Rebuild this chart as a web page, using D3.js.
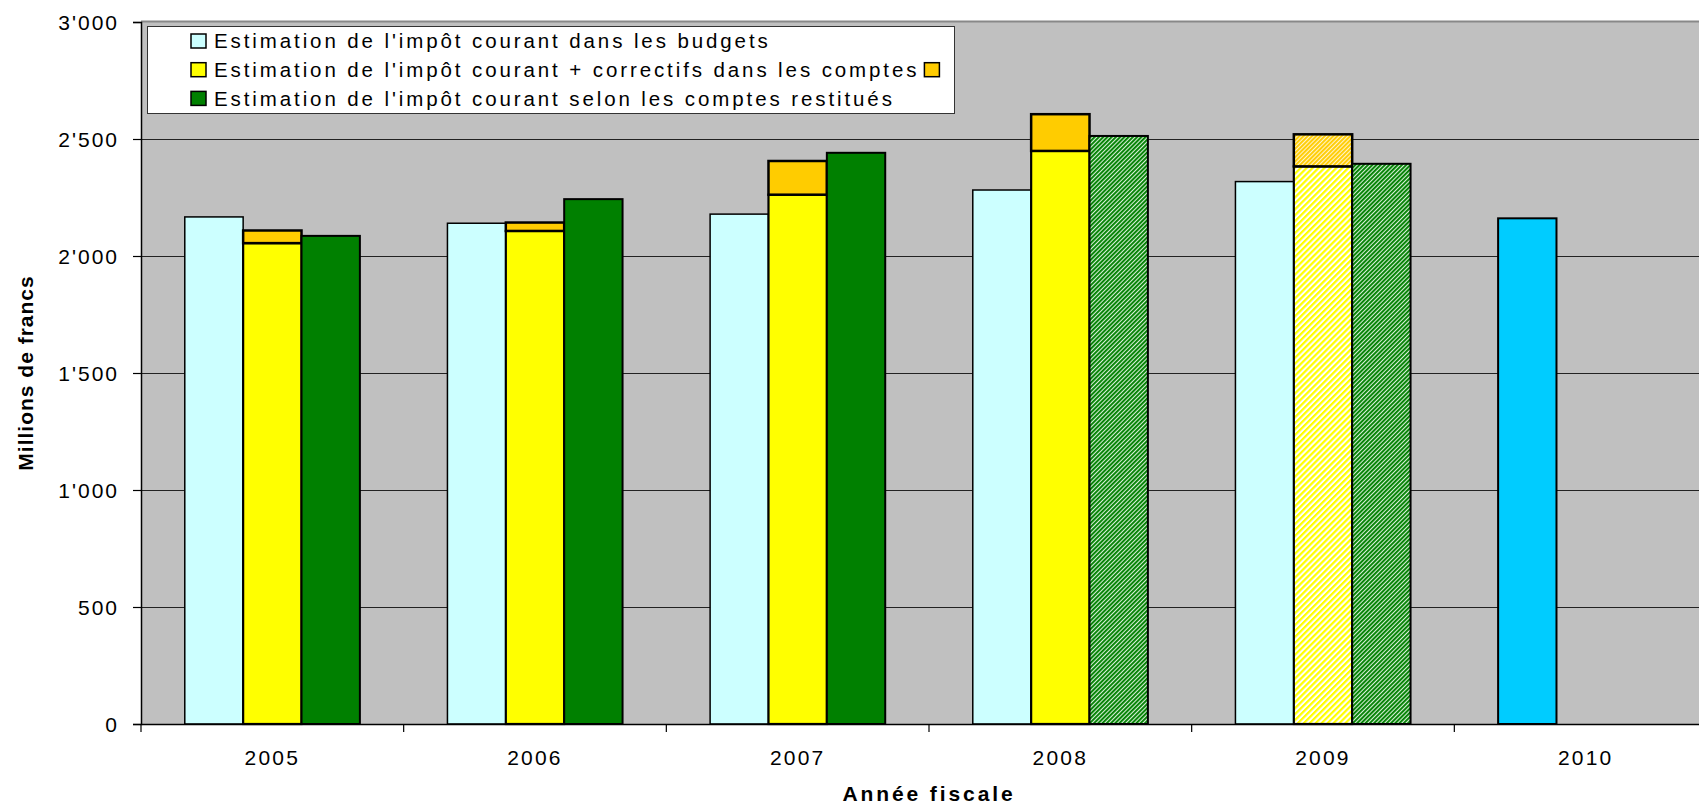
<!DOCTYPE html>
<html>
<head>
<meta charset="utf-8">
<script src="https://cdn.jsdelivr.net/npm/d3@7"></script>
<style>
  body { margin: 0; background: #fff; }
  text { font-family: "Liberation Sans", Arial, sans-serif; fill: #000; }
</style>
</head>
<body>
<div id="chart"></div>
<script>
// data (millions de francs)
const years = ["2005", "2006", "2007", "2008", "2009", "2010"];
const budgets = [2167, 2140, 2179, 2282, 2318, 2161];
const comptes = [2055, 2107, 2262, 2449, 2383, null];
const correctifs = [54, 36, 144, 157, 137, null];
const restitues = [2086, 2243, 2441, 2513, 2394, null];
const hatchedRestitues = ["2008", "2009"];
const hatchedComptes = ["2009"];
const budgetHighlight = ["2010"];
const yTicks = [0, 500, 1000, 1500, 2000, 2500, 3000];
const legendLabels = [
  "Estimation de l'impôt courant dans les budgets",
  "Estimation de l'impôt courant + correctifs dans les comptes",
  "Estimation de l'impôt courant selon les comptes restitués"
];

const W = 1699, H = 805;
const margin = {left: 141, top: 22};
const plotW = 1576, plotH = 702;

const svg = d3.select("#chart").append("svg")
  .attr("width", W).attr("height", H);

const fmt = d3.formatLocale({decimal: ".", thousands: "'", grouping: [3], currency: ["", ""]}).format(",");

// patterns
const defs = svg.append("defs");
function stripes(id, bg, fg, size, fgW) {
  let p = defs.append("pattern").attr("id", id)
    .attr("patternUnits", "userSpaceOnUse")
    .attr("width", size).attr("height", size)
    .attr("patternTransform", "rotate(45)");
  p.append("rect").attr("width", size).attr("height", size).attr("fill", bg);
  p.append("rect").attr("width", fgW).attr("height", size).attr("fill", fg);
}
stripes("hGreen", "#d8f0d8", "#008000", 3, 1.9);
stripes("hYellow", "#ffffff", "#ffff00", 4.2, 2.2);
stripes("hOrange", "#fff4cc", "#ffcc00", 3, 1.9);

const x0 = d3.scaleBand().domain(years).range([margin.left, margin.left + plotW]);
const x1 = d3.scaleBand().domain(["b", "c", "r"]).range([0, x0.bandwidth()])
  .paddingInner(0).paddingOuter(0.75);
const y = d3.scaleLinear().domain([0, 3000]).range([margin.top + plotH, margin.top]);

// plot background
svg.append("rect")
  .attr("x", margin.left).attr("y", margin.top)
  .attr("width", plotW).attr("height", plotH)
  .attr("fill", "#c0c0c0");
svg.append("line")
  .attr("x1", margin.left).attr("x2", W)
  .attr("y1", margin.top - 0.5).attr("y2", margin.top - 0.5)
  .attr("stroke", "#888").attr("stroke-width", 2);

// gridlines
svg.append("g").selectAll("line")
  .data(yTicks.filter(d => d > 0 && d < 3000))
  .join("line")
  .attr("x1", margin.left).attr("x2", margin.left + plotW)
  .attr("y1", d => y(d) + 0.5).attr("y2", d => y(d) + 0.5)
  .attr("stroke", "#222").attr("stroke-width", 1.2);

// bars
const g = svg.append("g");
years.forEach((yr, i) => {
  let gx = x0(yr);
  let bw = x1.bandwidth();
  if (budgets[i] != null) {
    let hi = budgetHighlight.includes(yr);
    g.append("rect")
      .attr("x", gx + x1("b")).attr("y", y(budgets[i]))
      .attr("width", bw).attr("height", y(0) - y(budgets[i]))
      .attr("fill", hi ? "#00ccff" : "#ccffff")
      .attr("stroke", "#000").attr("stroke-width", hi ? 2 : 1.5);
  }
  if (comptes[i] != null) {
    let h = hatchedComptes.includes(yr);
    g.append("rect")
      .attr("x", gx + x1("c")).attr("y", y(comptes[i]))
      .attr("width", bw).attr("height", y(0) - y(comptes[i]))
      .attr("fill", h ? "url(#hYellow)" : "#ffff00")
      .attr("stroke", "#000").attr("stroke-width", 2.2);
    let top = comptes[i] + correctifs[i];
    g.append("rect")
      .attr("x", gx + x1("c")).attr("y", y(top))
      .attr("width", bw).attr("height", y(comptes[i]) - y(top))
      .attr("fill", h ? "url(#hOrange)" : "#ffcc00")
      .attr("stroke", "#000").attr("stroke-width", 2.5);
  }
  if (restitues[i] != null) {
    let h = hatchedRestitues.includes(yr);
    g.append("rect")
      .attr("x", gx + x1("r")).attr("y", y(restitues[i]))
      .attr("width", bw).attr("height", y(0) - y(restitues[i]))
      .attr("fill", h ? "url(#hGreen)" : "#008000")
      .attr("stroke", "#000").attr("stroke-width", 2);
  }
});

// y axis
const yAxis = svg.append("g")
  .attr("transform", `translate(${margin.left},0)`)
  .call(d3.axisLeft(y).tickValues(yTicks).tickFormat(fmt).tickSize(8).tickPadding(14));
yAxis.select(".domain").attr("stroke", "#000").attr("stroke-width", 1.5);
yAxis.selectAll(".tick line").attr("stroke", "#000").attr("stroke-width", 1.2);
yAxis.selectAll(".tick text")
  .style("font-size", "21px").style("letter-spacing", "2px")
  .attr("font-family", null).attr("dy", "0.35em");

// x axis
const xAxis = svg.append("g")
  .attr("transform", `translate(0,${margin.top + plotH})`)
  .call(d3.axisBottom(x0).tickSize(0).tickPadding(26));
xAxis.select(".domain").attr("stroke", "#000").attr("stroke-width", 1.5);
xAxis.selectAll(".tick text")
  .style("font-size", "21px").style("letter-spacing", "2.2px")
  .attr("font-family", null);
xAxis.append("g").selectAll("line")
  .data(years)
  .join("line")
  .attr("x1", d => x0(d)).attr("x2", d => x0(d))
  .attr("y1", 0).attr("y2", 8)
  .attr("stroke", "#000").attr("stroke-width", 1.2);

// axis titles
svg.append("text")
  .attr("x", margin.left + plotW / 2).attr("y", 801)
  .attr("text-anchor", "middle")
  .style("font-size", "21px").style("font-weight", "bold").style("letter-spacing", "2.9px")
  .text("Année fiscale");
svg.append("text")
  .attr("transform", `translate(33,${margin.top + plotH / 2}) rotate(-90)`)
  .attr("text-anchor", "middle")
  .style("font-size", "21px").style("font-weight", "bold").style("letter-spacing", "1px")
  .text("Millions de francs");

// legend
const lg = svg.append("g");
lg.append("rect")
  .attr("x", 147.5).attr("y", 26.5).attr("width", 807).attr("height", 87)
  .attr("fill", "#fff").attr("stroke", "#333").attr("stroke-width", 1);
const swatches = ["#ccffff", "#ffff00", "#008000"];
legendLabels.forEach((lab, i) => {
  let cy = 41 + i * 28.7;
  lg.append("rect")
    .attr("x", 191).attr("y", cy - 7).attr("width", 15).attr("height", 14)
    .attr("fill", swatches[i]).attr("stroke", "#000").attr("stroke-width", 1.5);
  let t = lg.append("text")
    .attr("x", 214).attr("y", cy).attr("dy", "0.36em")
    .style("font-size", "20.5px").style("letter-spacing", "2.9px")
    .text(lab);
  if (i === 1) {
    let w = t.node().getComputedTextLength();
    lg.append("rect")
      .attr("x", 214 + w + 5).attr("y", cy - 7).attr("width", 15).attr("height", 14)
      .attr("fill", "#ffcc00").attr("stroke", "#000").attr("stroke-width", 1.5);
  }
});
</script>
</body>
</html>
